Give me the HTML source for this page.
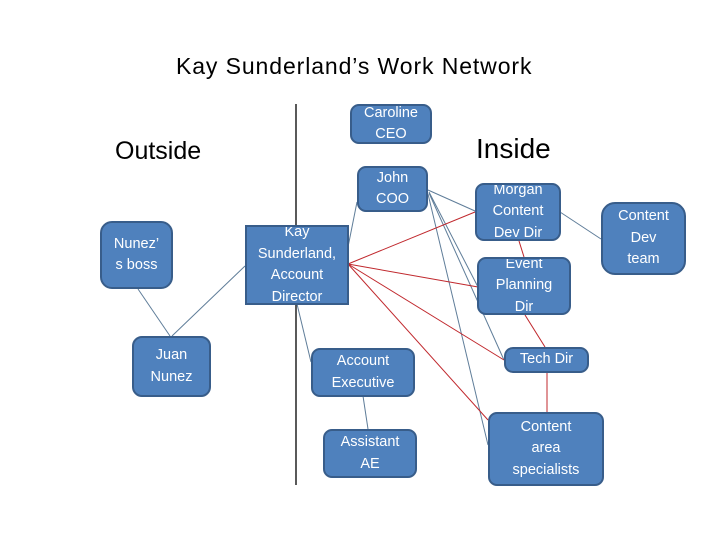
<!DOCTYPE html>
<html><head><style>
body{margin:0;width:720px;height:540px;background:#fff;position:relative;font-family:"Liberation Sans",sans-serif;overflow:hidden}
.t{position:absolute;color:#000;white-space:nowrap}
.n{position:absolute;background:#4f81bd;border:2px solid #385d8a;border-radius:9px;box-sizing:border-box;color:#fff;font-size:14.5px;line-height:21.5px;text-align:center;display:flex;align-items:center;justify-content:center;overflow:hidden}
svg{position:absolute;left:0;top:0}
</style></head><body>
<div class="t" style="left:176px;top:53px;font-size:23px;letter-spacing:0.9px">Kay Sunderland’s Work Network</div>
<div class="t" style="left:115px;top:137px;font-size:25px">Outside</div>
<div class="t" style="left:476px;top:133px;font-size:28px">Inside</div>
<svg width="720" height="540">
<line x1="296" y1="104" x2="296" y2="485" stroke="#000" stroke-width="1.3"/>
<g stroke="#5f7d99" stroke-width="1">
<line x1="428" y1="190" x2="475" y2="211"/>
<line x1="429" y1="192" x2="478" y2="287"/>
<line x1="429" y1="193" x2="504" y2="360"/>
<line x1="428" y1="194" x2="488" y2="445"/>
<line x1="348" y1="247" x2="357" y2="202"/>
<line x1="297" y1="304" x2="311" y2="362"/>
<line x1="363" y1="396" x2="368" y2="429"/>
<line x1="560" y1="212" x2="601" y2="239"/>
<line x1="138" y1="289" x2="170" y2="336"/>
<line x1="172" y1="336" x2="245" y2="266"/>
</g>
<g stroke="#c0282d" stroke-width="1">
<line x1="348" y1="264" x2="475" y2="212"/>
<line x1="348" y1="264" x2="478" y2="287"/>
<line x1="348" y1="264" x2="504" y2="360"/>
<line x1="348" y1="264" x2="488" y2="420"/>
<line x1="519" y1="241" x2="524" y2="257"/>
<line x1="525" y1="315" x2="545" y2="347"/>
<line x1="547" y1="372" x2="547" y2="412"/>
</g>
</svg>
<div class="n" style="left:350px;top:104px;width:82px;height:40px">Caroline<br>CEO</div>
<div class="n" style="left:357px;top:166px;width:71px;height:46px">John<br>COO</div>
<div class="n" style="left:245px;top:225px;width:104px;height:80px;border-radius:0">Kay<br>Sunderland,<br>Account<br>Director</div>
<div class="n" style="left:311px;top:348px;width:104px;height:49px">Account<br>Executive</div>
<div class="n" style="left:323px;top:429px;width:94px;height:49px">Assistant<br>AE</div>
<div class="n" style="left:475px;top:183px;width:86px;height:58px">Morgan<br>Content<br>Dev Dir</div>
<div class="n" style="left:477px;top:257px;width:94px;height:58px">Event<br>Planning<br>Dir</div>
<div class="n" style="left:504px;top:347px;width:85px;height:26px">Tech Dir</div>
<div class="n" style="left:488px;top:412px;width:116px;height:74px">Content<br>area<br>specialists</div>
<div class="n" style="left:601px;top:202px;width:85px;height:73px;border-radius:14px">Content<br>Dev<br>team</div>
<div class="n" style="left:100px;top:221px;width:73px;height:68px;border-radius:12px">Nunez’<br>s boss</div>
<div class="n" style="left:132px;top:336px;width:79px;height:61px;border-radius:10px">Juan<br>Nunez</div>
</body></html>
